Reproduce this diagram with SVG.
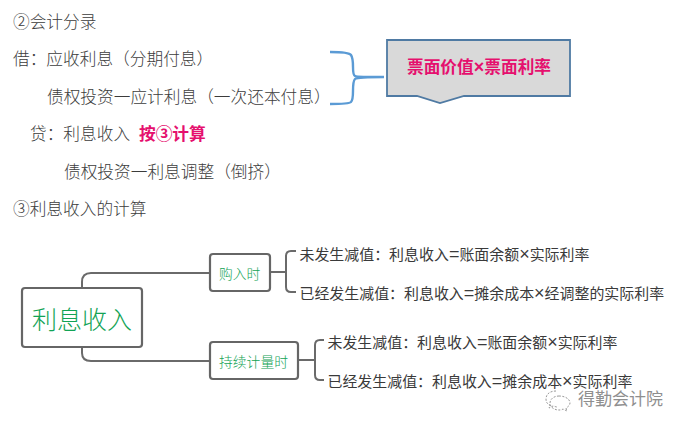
<svg xmlns="http://www.w3.org/2000/svg" width="683" height="428" viewBox="0 0 683 428">
<style>
text{font-family:"Noto Sans CJK SC","Liberation Sans",sans-serif}
.t{font-size:16.7px;fill:#3c3c3c;font-weight:300}
.p{font-size:16.7px;fill:#e5106e;font-weight:700}
.b{font-size:14.95px;fill:#3a3a3a}
.g{fill:#12a355;font-weight:300}
.m{font-family:"Liberation Sans",sans-serif;font-size:18px}
.n{fill:#fff;stroke:#666;stroke-width:2.2}
.c{fill:none;stroke:#6a6a6a;stroke-width:2}
.br{fill:none;stroke:#5b9bd5;stroke-width:2.4}
</style>
<rect width="683" height="428" fill="#fff"/>
<g id="entries">
<text class="t" x="13" y="28">②会计分录</text>
<text class="t" x="13" y="65">借：应收利息（分期付息）</text>
<text class="t" x="47" y="103">债权投资一应计利息（一次还本付息）</text>
<text class="t" x="30" y="140">贷：利息收入</text>
<text class="p" x="139" y="140">按③计算</text>
<text class="t" x="64" y="178">债权投资一利息调整（倒挤）</text>
<text class="t" x="13" y="215">③利息收入的计算</text>
</g>
<g id="brace"><path class="br" d="M330 52Q349 52 351 55Q353 58 353 67Q353 75 355 76Q357 77 384 77M384 77Q357 77 355 79Q353 81 353 91Q353 100 351 102Q349 104 330 104"/></g>
<g id="callout">
<path d="M387 40H570V96H464L440 103L417 96H387Z" fill="#d9d9d9" stroke="#4f7aa3" stroke-width="1.8"/>
<text class="p" x="407" y="73">票面价值<tspan class="m">×</tspan>票面利率</text>
</g>
<g id="connectors">
<path class="c" d="M82 288V282Q82 273 91 273H210"/>
<path class="c" d="M82 347V353Q82 361 91 361H210"/>
<path class="c" d="M270 272H285"/>
<path class="c" d="M296 251H291Q286 251 286 256V287Q286 292 291 292H296"/>
<path class="c" d="M298 360H314"/>
<path class="c" d="M324 340H320Q315 340 315 345V375Q315 380 320 380H324"/>
</g>
<g id="root"><rect class="n" x="22" y="288" width="120" height="59" rx="3"/><text class="g" x="32" y="329" font-size="25">利息收入</text></g>
<g id="purchase"><rect class="n" x="210" y="254" width="60" height="37" rx="3"/><text class="g" x="219" y="279" font-size="13.8">购入时</text></g>
<g id="holding"><rect class="n" x="210" y="342" width="88" height="37" rx="3"/><text class="g" x="219" y="367" font-size="13.8">持续计量时</text></g>
<g id="leaf1"><text class="b" x="299.5" y="260">未发生减值：利息收入<tspan class="m">=</tspan>账面余额<tspan class="m">×</tspan>实际利率</text></g>
<g id="leaf2"><text class="b" x="299.5" y="299">已经发生减值：利息收入<tspan class="m">=</tspan>摊余成本<tspan class="m">×</tspan>经调整的实际利率</text></g>
<g id="leaf3"><text class="b" x="327.5" y="348">未发生减值：利息收入<tspan class="m">=</tspan>账面余额<tspan class="m">×</tspan>实际利率</text></g>
<g id="leaf4"><text class="b" x="327.5" y="387">已经发生减值：利息收入<tspan class="m">=</tspan>摊余成本<tspan class="m">×</tspan>实际利率</text></g>
<g id="watermark">
<path d="M556 391c-6 0-10 3-10 8c0 3 1 5 4 6l-1 3l4-2c1 0 3 1 4 1M559 396c-5 0-9 3-9 7s4 7 9 7c1 0 3 0 4-1l4 2l-1-3c2-1 4-3 4-5c0-4-5-7-11-7z" fill="none" stroke="#999" stroke-width="1" stroke-dasharray="2 1.5"/>
<text x="578" y="405" font-size="17" fill="#8f8f8f">得勤会计院</text>
</g>
</svg>
